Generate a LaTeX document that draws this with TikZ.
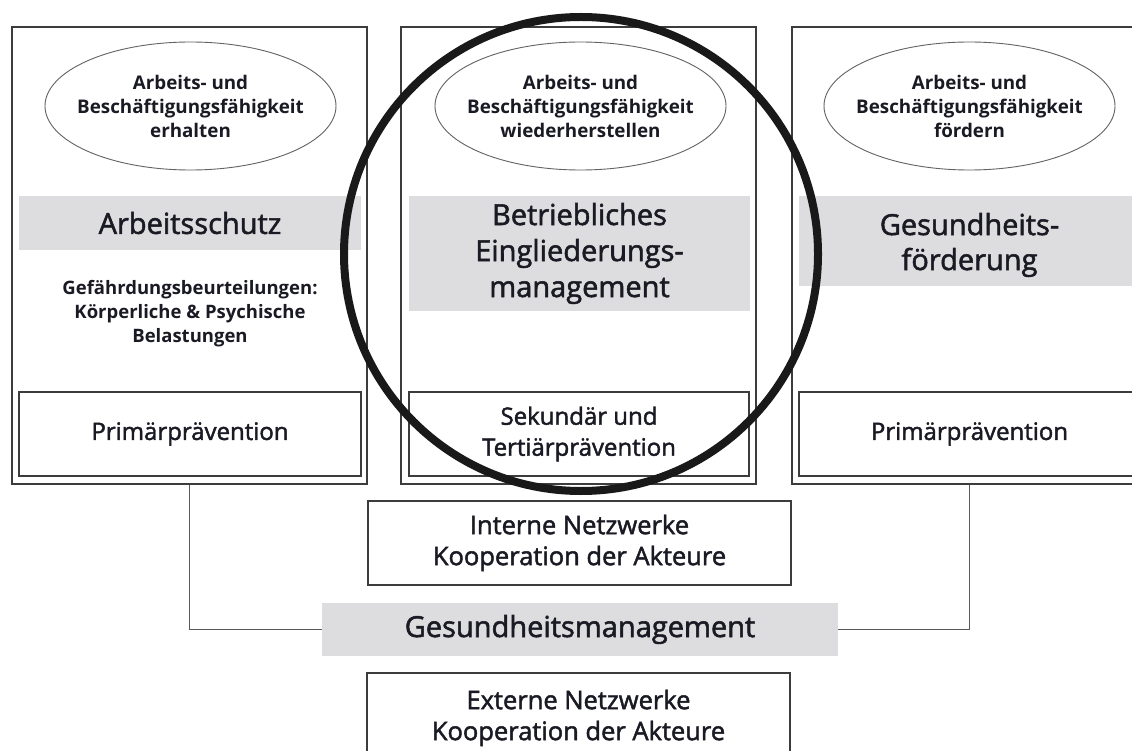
\documentclass[tikz,border=0pt]{standalone}
\usepackage{fontspec}
\setmainfont{Open Sans}
\newfontfamily\medfont[FakeBold=1.8]{Open Sans}
\usetikzlibrary{shapes.geometric}
\definecolor{band}{HTML}{DDDDDF}
\definecolor{ink}{HTML}{1A1A24}
\definecolor{frame}{HTML}{3C3C3C}
\tikzset{
  colbox/.style={draw=frame, line width=1.4pt, rectangle, inner sep=0pt},
  ell/.style={draw=frame!80, line width=0.9pt, ellipse, inner sep=0pt,
    minimum width=291pt, minimum height=128pt},
  elltext/.style={align=center, text=ink, inner sep=0pt,
    font=\bfseries\fontsize{18.8}{24}\selectfont},
  greyband/.style={fill=band, draw=none, rectangle, inner sep=0pt, align=center, text=ink,
    font=\medfont\fontsize{29}{36}\selectfont},
  innerbox/.style={draw=frame, line width=1.4pt, rectangle, inner sep=0pt, align=center, text=ink,
    font=\medfont\fontsize{24}{31}\selectfont},
  netbox/.style={innerbox, font=\medfont\fontsize{25.5}{31}\selectfont},
  plain/.style={align=center, text=ink, inner sep=0pt},
  conn/.style={draw=frame!85, line width=1.8pt},
  ring/.style={draw=black!90, line width=8pt, circle, inner sep=0pt, minimum size=474pt}
}
\begin{document}
\begin{tikzpicture}[x=1pt,y=-1pt]
\useasboundingbox (0,0) rectangle (1132,751);
\clip (0,0) rectangle (1132,751);
\fill[white] (0,0) rectangle (1132,751);
% columns
\node[colbox, minimum width=355pt, minimum height=457pt] (colL) at (189.5,255.5) {};
\node[colbox, minimum width=355pt, minimum height=457pt] (colM) at (578.5,255.5) {};
\node[colbox, minimum width=355pt, minimum height=457pt] (colR) at (969.5,255.5) {};
% ellipses
\node[ell] (ellL) at (190.5,106) {};
\node[elltext] (ellLt) at (ellL.center) {Arbeits- und\\Beschäftigungsfähigkeit\\erhalten};
\node[ell] (ellM) at (580.5,106) {};
\node[elltext] (ellMt) at (ellM.center) {Arbeits- und\\Beschäftigungsfähigkeit\\wiederherstellen};
\node[ell] (ellR) at (969.5,106) {};
\node[elltext] (ellRt) at (ellR.center) {Arbeits- und\\Beschäftigungsfähigkeit\\fördern};
% grey bands
\node[greyband, minimum width=342pt, minimum height=54pt] (bandL) at (190,223) {Arbeitsschutz};
\node[greyband, minimum width=341pt, minimum height=115pt] (bandM) at (579.5,253.5) {Betriebliches\\Eingliederungs-\\management};
\node[greyband, minimum width=341pt, minimum height=90pt] (bandR) at (969.5,241) {};
\node[plain, font=\medfont\fontsize{29}{35}\selectfont] (bandRt) at (969.5,245) {Gesundheits-\\förderung};
% details
\node[plain, font=\bfseries\fontsize{18.5}{24}\selectfont] (gef) at (190,314) {Gefährdungsbeurteilungen:\\Körperliche \& Psychische\\Belastungen};
% prevention boxes
\node[innerbox, minimum width=342pt, minimum height=84pt] (primL) at (190,434) {Primärprävention};
\node[innerbox, minimum width=340pt, minimum height=84pt] (sekM) at (579,434) {Sekundär und\\Tertiärprävention};
\node[innerbox, minimum width=341pt, minimum height=84pt] (primR) at (969.5,434) {Primärprävention};
% bottom
\node[netbox, minimum width=423pt, minimum height=84pt] (netI) at (579.5,543) {Interne Netzwerke\\Kooperation der Akteure};
\node[greyband, minimum width=516pt, minimum height=53pt] (gm) at (580,629.5) {Gesundheitsmanagement};
\node[netbox, minimum width=423pt, minimum height=90pt] (netE) at (578.5,718) {Externe Netzwerke\\Kooperation der Akteure};
% connectors
\draw[conn] (colL.south) |- (gm.west);
\draw[conn] (gm.east) -| (colR.south);
% highlight ring
\node[ring] (ring) at (581,254) {};
\end{tikzpicture}
\end{document}
